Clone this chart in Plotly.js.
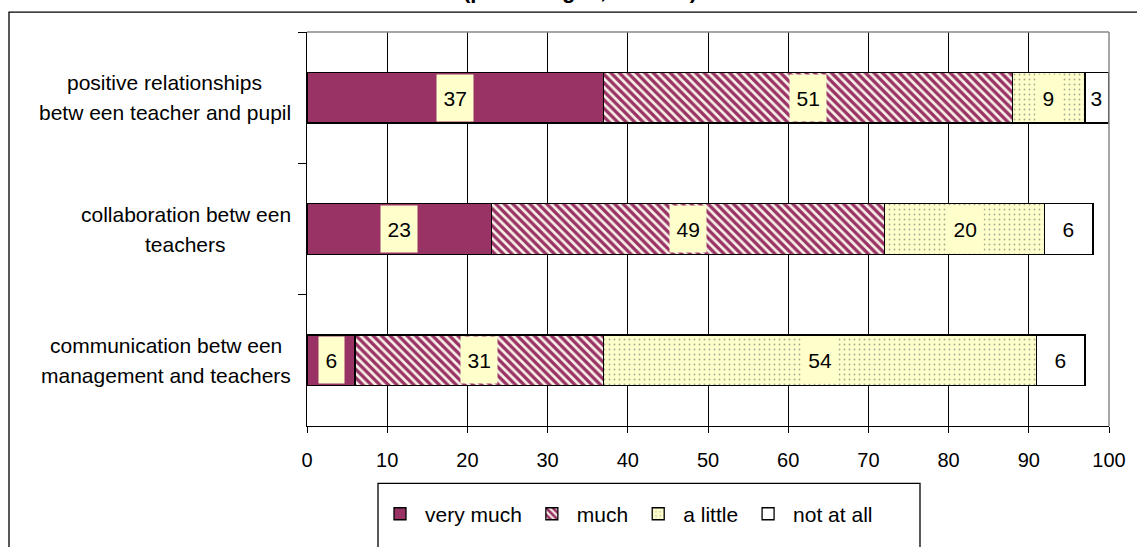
<!DOCTYPE html>
<html><head><meta charset="utf-8">
<script src="https://cdn.plot.ly/plotly-3.0.1.min.js"></script>
<style>html,body{margin:0;padding:0;background:#fff}#chart{width:1137px;height:547px}</style>
</head><body><div id="chart"></div>
<script>
// ---- data ----
const categories = [
  "positive relationships<br>betw een teacher and pupil",
  "collaboration betw een<br>teachers",
  "communication betw een<br>management and teachers"
];
const seriesNames = ["very much", "much", "a little", "not at all"];
const veryMuch = [37, 23, 6];
const much     = [51, 49, 31];
const aLittle  = [9, 20, 54];
const notAtAll = [3, 6, 6];
const xTickValues = [0, 10, 20, 30, 40, 50, 60, 70, 80, 90, 100];
const titleText = "(percentages, N = 321)";

// ---- layout geometry ----
const W = 1137, H = 547;
const M = {l: 307, r: 28, t: 32, b: 117};
const PW = W - M.l - M.r, PH = H - M.t - M.b;
const xp = px => (px - M.l) / PW;
const yp = py => (H - M.b - py) / PH;
const FONT = "Liberation Sans, Arial, sans-serif";

const canvas = document.createElement("canvas");
const ctx = canvas.getContext("2d");
function textW(t, size) { ctx.font = size + "px 'Liberation Sans'"; return ctx.measureText(t).width; }

const series = [veryMuch, much, aLittle, notAtAll];
const styles = [
  {color: "#993366"},
  {color: "#FFF8EE", pattern: {shape: "\\", fgcolor: "#993366", bgcolor: "#F8F0E6", size: 6, solidity: 0.55}},
  {color: "#FFFFCC", pattern: {shape: ".", fgcolor: "#A8A890", bgcolor: "#FFFFCC", size: 5, solidity: 0.1}},
  {color: "#FFFFFF"}
];

const traces = series.map((vals, i) => ({
  type: "bar", orientation: "h", name: seriesNames[i],
  x: vals, y: categories,
  marker: Object.assign({line: {color: "#000", width: 1.3}}, styles[i]),
  hoverinfo: "x+name"
}));

const LBL = 21;
const annotations = [];
// value labels
categories.forEach((c, ci) => {
  let cum = 0;
  series.forEach((vals, si) => {
    const v = vals[ci];
    const mid = cum + v / 2;
    cum += v;
    const t = String(v);
    annotations.push({
      x: mid, y: c, xref: "x", yref: "y", text: t, showarrow: false,
      font: {family: FONT, size: LBL, color: "#000"},
      bgcolor: si < 3 ? "#FFFFCC" : "rgba(0,0,0,0)",
      width: textW(t, LBL) + 11, height: 44, align: "center", valign: "middle"
    });
  });
});
// category labels (centered block, right edge at 291px)
categories.forEach((c, ci) => {
  const lines = c.split("<br>");
  const maxW = Math.max(...lines.map(l => textW(l, LBL)));
  const cx = 291 - maxW / 2;
  lines.forEach((l, li) => {
    annotations.push({
      x: xp(cx), xref: "paper", y: c, yref: "y", text: l, showarrow: false,
      xanchor: "center", yanchor: "middle", yshift: ((lines.length - 1) / 2 - li) * 30,
      font: {family: FONT, size: LBL, color: "#000"}
    });
  });
});
// clipped title
annotations.push({
  x: xp(580), y: yp(5), xref: "paper", yref: "paper", xanchor: "center", yanchor: "bottom",
  text: "<b>" + titleText + "</b>", showarrow: false,
  font: {family: FONT, size: 22, color: "#000"}
});

const shapes = [
  // outer frame
  {type: "rect", xref: "paper", yref: "paper", x0: xp(9), x1: xp(1160), y0: yp(570), y1: yp(12),
   line: {color: "#000", width: 1.3}, fillcolor: "rgba(0,0,0,0)", layer: "below"},
  // plot-area top and right border (grey)
  {type: "line", xref: "paper", yref: "paper", x0: 0, x1: 1, y0: 1, y1: 1, line: {color: "#888", width: 1.5}},
  {type: "line", xref: "paper", yref: "paper", x0: 1, x1: 1, y0: 0, y1: 1, line: {color: "#888", width: 1.5}},
  // legend box
  {type: "rect", xref: "paper", yref: "paper", x0: xp(378), x1: xp(920), y0: yp(562), y1: yp(488),
   line: {color: "#000", width: 1.3}, fillcolor: "rgba(0,0,0,0)"}
];

const layout = {
  width: W, height: H, margin: M,
  paper_bgcolor: "#fff", plot_bgcolor: "#fff",
  barmode: "stack", bargap: 0.615,
  font: {family: FONT, size: 20, color: "#000"},
  showlegend: true,
  legend: {orientation: "h", x: xp(375), y: yp(519), xanchor: "left", yanchor: "middle",
           font: {family: FONT, size: 21, color: "#000"}, bgcolor: "rgba(0,0,0,0)", borderwidth: 0,
           traceorder: "normal", itemwidth: 40},
  xaxis: {range: [0, 100], tickvals: xTickValues, ticks: "outside", ticklen: 6, tickcolor: "#000",
          showgrid: true, gridcolor: "#000", gridwidth: 1, showline: true, linecolor: "#000", linewidth: 1.3,
          zeroline: false, tickfont: {family: FONT, size: 20, color: "#000"}, ticklabelstandoff: 10, fixedrange: true},
  yaxis: {type: "category", categoryorder: "array", categoryarray: categories, autorange: "reversed",
          showticklabels: false, ticks: "outside", ticklen: 8, tickcolor: "#000", tickson: "boundaries",
          showgrid: false, showline: true, linecolor: "#000", linewidth: 1.3, zeroline: false, fixedrange: true},
  annotations: annotations, shapes: shapes
};

Plotly.newPlot("chart", traces, layout, {displayModeBar: false, staticPlot: true});
</script>
</body></html>
